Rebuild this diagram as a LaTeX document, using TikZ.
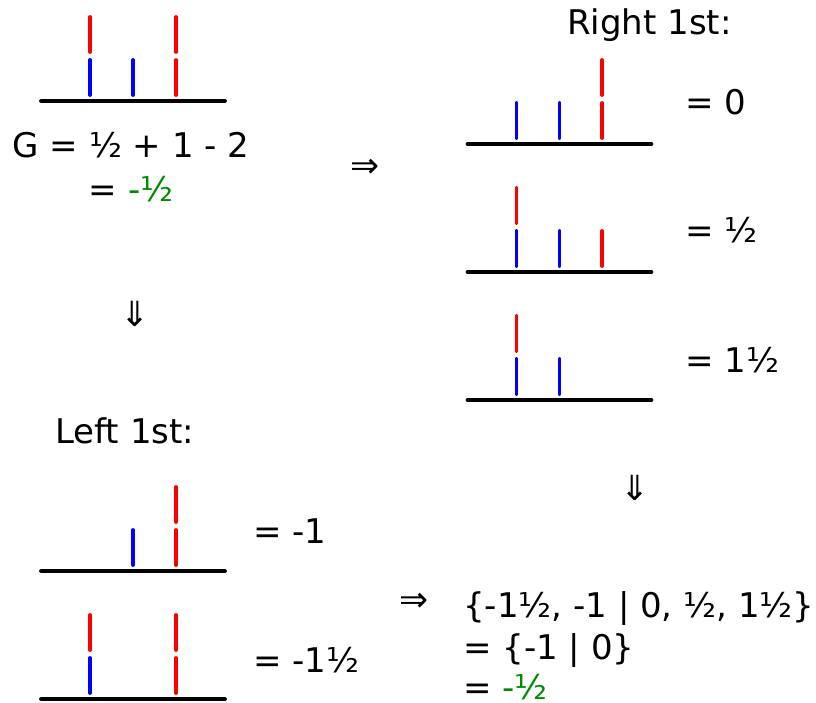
\documentclass[tikz,border=0pt]{standalone}
\usepackage{fontspec}
\setmainfont{DejaVu Sans}
\definecolor{valgreen}{RGB}{0,140,0}
\definecolor{pred}{RGB}{255,0,0}
\definecolor{pblue}{RGB}{0,0,255}
\newcommand{\seg}[4]{% x, ground y, level, colour
  \draw[segline,#4] (#1,{#2-6-43*#3}) -- (#1,{#2-41-43*#3});}
\tikzset{
  segline/.style={line width=2.9pt,line cap=round},
  groundline/.style={line width=3.6pt,line cap=round,black},
  lbl/.style={inner sep=0pt,font=\fontsize{25.5pt}{30pt}\selectfont,anchor=base west},
  arr/.style={inner sep=0pt,font=\fontsize{26pt}{30pt}\selectfont,anchor=center}
}
\begin{document}
\begin{tikzpicture}[x=0.75pt,y=-0.75pt]
\useasboundingbox (0,0) rectangle (816,702);
% ---- top left: G
\draw[groundline] (41.5,101) -- (224.5,101);
\seg{90}{101}{0}{pblue}\seg{90}{101}{1}{pred}
\seg{133}{101}{0}{pblue}
\seg{176}{101}{0}{pred}\seg{176}{101}{1}{pred}
\node[lbl,anchor=base] (g1) at (131,158) {G = ½ + 1 - 2};
\node[lbl,anchor=base] (g2) at (131,202) {= \textcolor{valgreen}{-½}};
\node[arr] (ar1) at (365,168) {⇒};
\node[arr] (ad1) at (135.5,314) {⇓};
% ---- right 1st
\node[lbl] (rt) at (567,35) {Right 1st:};
\draw[groundline] (468,144) -- (651,144);
\seg{516.5}{144}{0}{pblue}
\seg{559.5}{144}{0}{pblue}
\seg{602}{144}{0}{pred}\seg{602}{144}{1}{pred}
\node[lbl] (r1) at (685,115) {= 0};
\draw[groundline] (468,272) -- (651,272);
\seg{516.5}{272}{0}{pblue}\seg{516.5}{272}{1}{pred}
\seg{559.5}{272}{0}{pblue}
\seg{602}{272}{0}{pred}
\node[lbl] (r2) at (685,243) {= ½};
\draw[groundline] (468,400) -- (651,400);
\seg{516.5}{400}{0}{pblue}\seg{516.5}{400}{1}{pred}
\seg{559.5}{400}{0}{pblue}
\node[lbl] (r3) at (685,372) {= 1½};
\node[arr] (ad2) at (635,488) {⇓};
% ---- left 1st
\node[lbl] (lt) at (55,443) {Left 1st:};
\draw[groundline] (41.5,571) -- (224.5,571);
\seg{133}{571}{0}{pblue}
\seg{176}{571}{0}{pred}\seg{176}{571}{1}{pred}
\node[lbl] (l1) at (253,543) {= -1};
\draw[groundline] (41.5,699) -- (224.5,699);
\seg{90}{699}{0}{pblue}\seg{90}{699}{1}{pred}
\seg{176}{699}{0}{pred}\seg{176}{699}{1}{pred}
\node[lbl] (l2) at (253,672) {= -1½};
% ---- result
\node[arr] (ar2) at (414,602) {⇒};
\node[lbl] (s1) at (463,617) {\{-1½, -1 | 0, ½, 1½\}};
\node[lbl] (s2) at (463,659) {= \{-1 | 0\}};
\node[lbl] (s3) at (463,699) {= \textcolor{valgreen}{-½}};
\end{tikzpicture}
\end{document}
